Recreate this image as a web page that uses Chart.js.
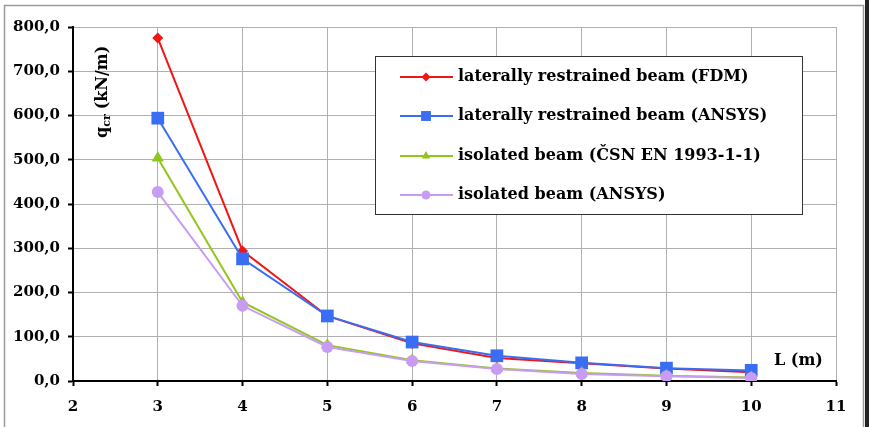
<!DOCTYPE html>
<html>
<head>
<meta charset="utf-8">
<script src="https://cdn.jsdelivr.net/npm/chart.js@4.4.1/dist/chart.umd.min.js"></script>
<style>
    html, body { margin: 0; padding: 0; background: #fff; }
    #wrap { position: relative; width: 869px; height: 427px; }
</style>
</head>
<body>
<div id="wrap"><canvas id="grafico" width="869" height="427"></canvas></div>
<script>
// L (m)
const comprimentos = [3, 4, 5, 6, 7, 8, 9, 10];

// q_cr (kN/m)
const fdmContido = [775, 294, 147, 85, 52, 40, 28, 20];
const ansysContido = [594, 276, 147, 88, 57, 41, 29, 24];
const csnIsolado = [504, 178, 81, 47, 28, 18, 12, 8];
const ansysIsolado = [427, 170, 77, 45, 27, 16, 11, 7];

const rotulosSeries = [
    "laterally restrained beam (FDM)",
    "laterally restrained beam (ANSYS)",
    "isolated beam (ČSN EN 1993-1-1)",
    "isolated beam (ANSYS)"
];

const ticksY = [0, 100, 200, 300, 400, 500, 600, 700, 800];
const ticksX = [2, 3, 4, 5, 6, 7, 8, 9, 10, 11];

const FONTE = "'DejaVu Serif', serif";

function pontos(valores) {
    return valores.map((v, i) => ({ x: comprimentos[i], y: v }));
}

function formatarNumero(valor) {
    return Number(valor).toFixed(1).replace(".", ",");
}

const series = [
    { label: rotulosSeries[0], data: pontos(fdmContido), cor: "#f21515", estilo: "rectRot", raio: 5.5, raioLeg: 4.5, ordem: 3 },
    { label: rotulosSeries[1], data: pontos(ansysContido), cor: "#3a6ef2", estilo: "rect", raio: 9, raioLeg: 7, ordem: 2 },
    { label: rotulosSeries[2], data: pontos(csnIsolado), cor: "#92c51c", estilo: "triangle", raio: 7, raioLeg: 5, ordem: 1 },
    { label: rotulosSeries[3], data: pontos(ansysIsolado), cor: "#c99cf4", estilo: "circle", raio: 6, raioLeg: 4.5, ordem: 0 }
];

const textosExtras = {
    id: "textosExtras",
    beforeDraw(chart) {
        const ctx = chart.ctx;
        ctx.save();
        ctx.fillStyle = "#fff";
        ctx.fillRect(0, 0, chart.width, chart.height);
        ctx.strokeStyle = "#9a9a9a";
        ctx.lineWidth = 1.5;
        ctx.strokeRect(4.5, 5.5, 859, 440);
        ctx.fillStyle = "#222";
        ctx.fillRect(865, 0, 4, chart.height);
        ctx.restore();
    },
    afterDraw(chart) {
        const ctx = chart.ctx;
        const area = chart.chartArea;
        ctx.save();

        // titulo do eixo y
        ctx.translate(area.left + 30, 138);
        ctx.rotate(-Math.PI / 2);
        ctx.fillStyle = "#000";
        ctx.textBaseline = "middle";
        ctx.textAlign = "left";
        ctx.font = "bold 16px " + FONTE;
        ctx.fillText("q", 0, 0);
        let x = ctx.measureText("q").width;
        ctx.font = "bold 11px " + FONTE;
        ctx.fillText("cr", x, 4);
        x += ctx.measureText("cr").width + 5;
        ctx.font = "bold 16px " + FONTE;
        ctx.fillText("(kN/m)", x, 0);
        ctx.restore();

        // titulo do eixo x
        ctx.save();
        ctx.fillStyle = "#000";
        ctx.font = "bold 16px " + FONTE;
        ctx.textBaseline = "middle";
        ctx.textAlign = "left";
        ctx.fillText("L (m)", 774, 361);
        ctx.restore();

        // legenda
        ctx.save();
        const caixa = { x: 375.5, y: 56.5, w: 427, h: 158 };
        ctx.fillStyle = "#fff";
        ctx.fillRect(caixa.x, caixa.y, caixa.w, caixa.h);
        ctx.strokeStyle = "#333";
        ctx.lineWidth = 1;
        ctx.strokeRect(caixa.x, caixa.y, caixa.w, caixa.h);
        const linhasY = [77, 116, 156, 195];
        series.forEach((s, i) => {
            const y = linhasY[i];
            ctx.strokeStyle = s.cor;
            ctx.lineWidth = 2;
            ctx.beginPath();
            ctx.moveTo(400, y);
            ctx.lineTo(453, y);
            ctx.stroke();
            ctx.fillStyle = s.cor;
            Chart.helpers.drawPoint(ctx, {
                pointStyle: s.estilo,
                radius: s.raioLeg,
                rotation: 0,
                borderWidth: 0
            }, 426, y);
            ctx.fillStyle = "#000";
            ctx.font = "bold 16px " + FONTE;
            ctx.textBaseline = "middle";
            ctx.textAlign = "left";
            ctx.fillText(s.label, 458, y);
        });
        ctx.restore();
    }
};

document.addEventListener("DOMContentLoaded", () => {
    const ctx = document.getElementById("grafico").getContext("2d");

    new Chart(ctx, {
        type: "line",
        data: {
            datasets: series.map(s => ({
                label: s.label,
                data: s.data,
                borderColor: s.cor,
                backgroundColor: s.cor,
                borderWidth: 2,
                pointStyle: s.estilo,
                pointRadius: s.raio,
                pointBorderWidth: 0,
                tension: 0,
                order: s.ordem
            }))
        },
        options: {
            responsive: false,
            animation: false,
            layout: {
                padding: { left: 0, top: 27, right: 33, bottom: 0 }
            },
            plugins: {
                legend: { display: false },
                tooltip: { enabled: false }
            },
            scales: {
                x: {
                    type: "linear",
                    min: 2,
                    max: 11,
                    afterBuildTicks: scale => {
                        scale.ticks = ticksX.map(v => ({ value: v }));
                    },
                    afterFit: scale => {
                        scale.height = 46;
                    },
                    border: { color: "#000", width: 2 },
                    grid: {
                        color: "#b0b0b0",
                        lineWidth: 1,
                        tickColor: "#000",
                        tickLength: 5,
                        tickWidth: 2
                    },
                    ticks: {
                        color: "#000",
                        padding: 12,
                        maxRotation: 0,
                        font: { family: FONTE, size: 15, weight: "bold" }
                    }
                },
                y: {
                    min: 0,
                    max: 800,
                    afterBuildTicks: scale => {
                        scale.ticks = ticksY.map(v => ({ value: v }));
                    },
                    afterFit: scale => {
                        scale.width = 73;
                    },
                    border: { color: "#000", width: 2 },
                    grid: {
                        color: "#b0b0b0",
                        lineWidth: 1,
                        tickColor: "#000",
                        tickLength: 5,
                        tickWidth: 2
                    },
                    ticks: {
                        color: "#000",
                        padding: 8,
                        font: { family: FONTE, size: 15, weight: "bold" },
                        callback: valor => formatarNumero(valor)
                    }
                }
            }
        },
        plugins: [textosExtras]
    });
});
</script>
</body>
</html>
